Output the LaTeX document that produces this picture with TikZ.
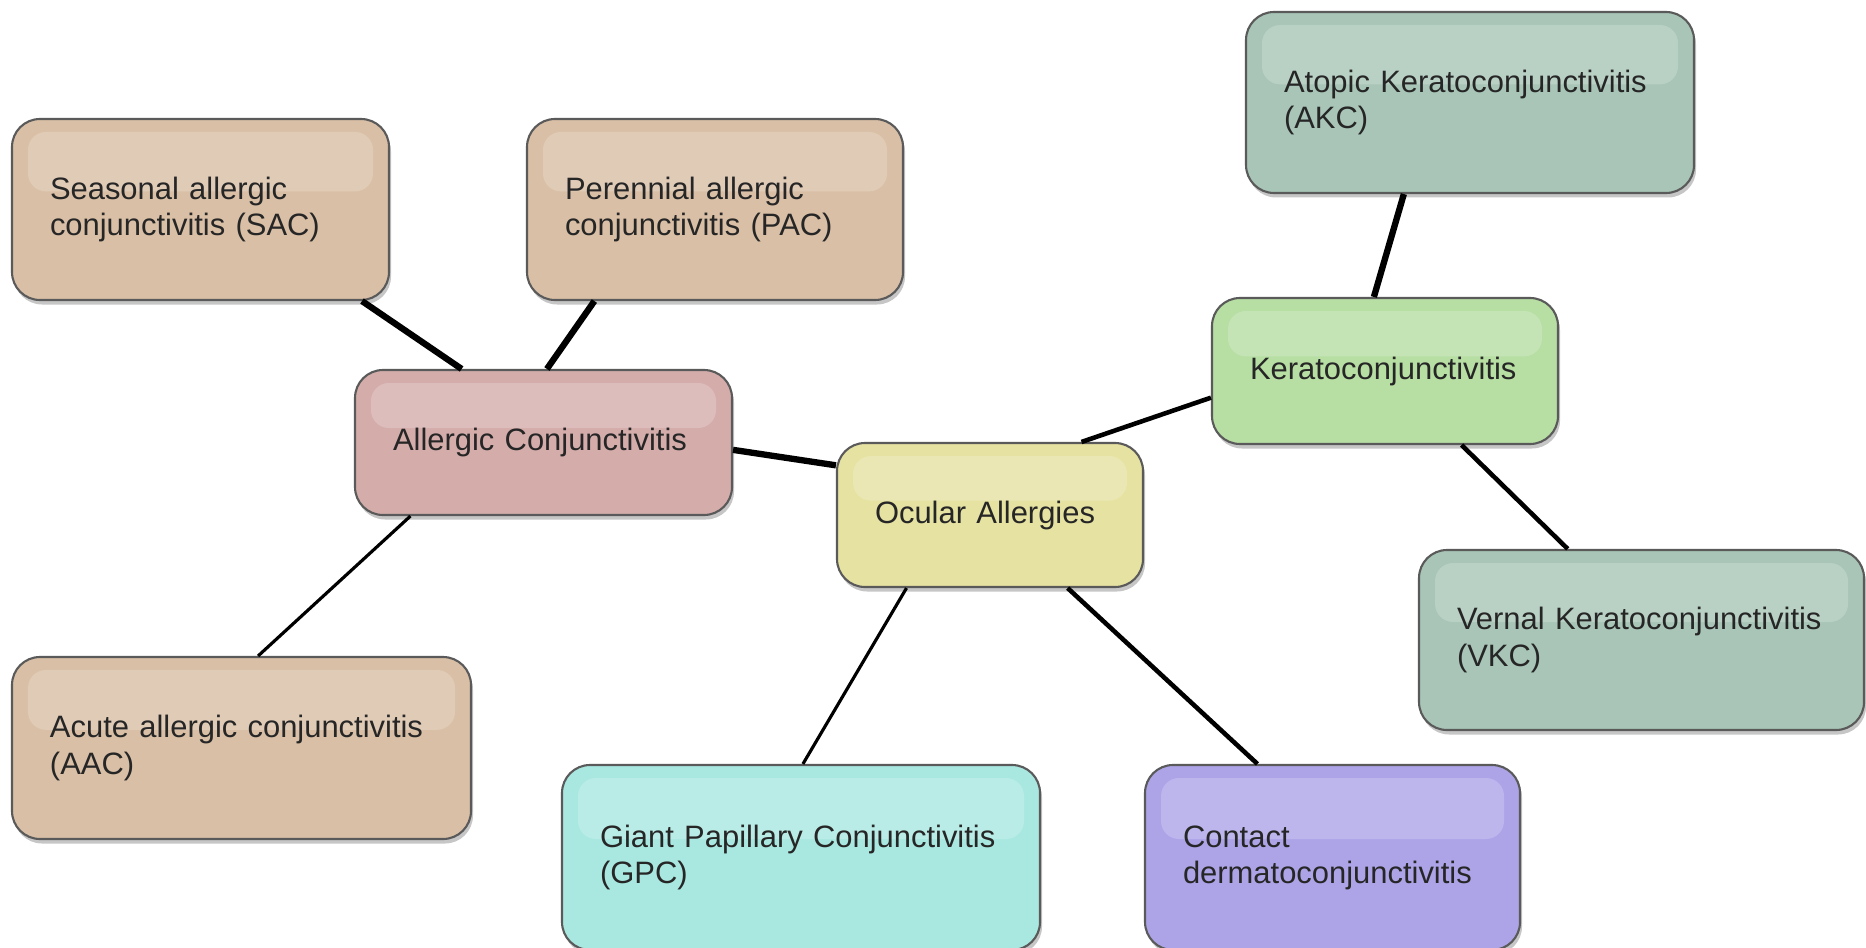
\documentclass[tikz,border=0pt]{standalone}
\usepackage{fontspec}
\setmainfont{Liberation Sans}[WordSpace=0.75]
\usepackage{tikz}
\usetikzlibrary{calc,shadows}

\definecolor{tanbox}{RGB}{217,191,166}
\definecolor{rosebox}{RGB}{212,173,171}
\definecolor{yellowbox}{RGB}{230,226,162}
\definecolor{greenbox}{RGB}{183,222,163}
\definecolor{sagebox}{RGB}{168,197,183}
\definecolor{cyanbox}{RGB}{168,232,225}
\definecolor{violetbox}{RGB}{173,164,232}
\definecolor{edgegray}{RGB}{90,90,90}
\newcommand{\bubblefont}{\fontsize{8.8}{10.3}\selectfont\hyphenpenalty=10000 \exhyphenpenalty=10000 }

\begin{document}
\begin{tikzpicture}[
  bubble/.style={draw=edgegray, line width=0.6pt, rounded corners=0.28cm, inner xsep=0.38cm, inner ysep=0pt,
    align=left, text=black!85, font=\bubblefont,
    drop shadow={shadow xshift=0.02cm, shadow yshift=-0.045cm, opacity=0.45},
    path picture={\fill[white, opacity=0.2, rounded corners=0.18cm]
      ($(path picture bounding box.north west)+(0.16,-0.13)$) rectangle
      ($(path picture bounding box.north east)!0.4!(path picture bounding box.south east)+(-0.16,0)$);}},
  thinlink/.style={line width=0.9pt},
  link/.style={line width=1.3pt},
  thicklink/.style={line width=1.8pt}
]
\useasboundingbox (0,0) rectangle (18.66,-9.47);

% centre
\node[bubble, fill=yellowbox, text width=2.30cm, minimum height=1.44cm] (ocular) at (9.90,-5.15) {Ocular Allergies};

% allergic conjunctivitis branch
\node[bubble, fill=rosebox, text width=3.01cm, minimum height=1.45cm] (ac) at (5.435,-4.425) {Allergic Conjunctivitis};
\node[bubble, fill=tanbox, text width=3.01cm, minimum height=1.81cm] (sac) at (2.005,-2.095) {Seasonal allergic\\conjunctivitis (SAC)};
\node[bubble, fill=tanbox, text width=3.00cm, minimum height=1.81cm] (pac) at (7.15,-2.095) {Perennial allergic\\conjunctivitis (PAC)};
\node[bubble, fill=tanbox, text width=3.83cm, minimum height=1.82cm] (aac) at (2.415,-7.48) {Acute allergic conjunctivitis\\(AAC)};

% keratoconjunctivitis branch
\node[bubble, fill=greenbox, text width=2.70cm, minimum height=1.46cm] (kerato) at (13.85,-3.71) {Keratoconjunctivitis};
\node[bubble, fill=sagebox, text width=3.72cm, minimum height=1.81cm] (akc) at (14.70,-1.025) {Atopic Keratoconjunctivitis\\(AKC)};
\node[bubble, fill=sagebox, text width=3.69cm, minimum height=1.80cm] (vkc) at (16.415,-6.40) {Vernal Keratoconjunctivitis\\(VKC)};

% lower row
\node[bubble, fill=cyanbox, text width=4.02cm, minimum height=1.85cm] (gpc) at (8.01,-8.575) {Giant Papillary Conjunctivitis\\(GPC)};
\node[bubble, fill=violetbox, text width=2.99cm, minimum height=1.85cm] (contact) at (13.325,-8.575) {Contact\\dermatoconjunctivitis};

% links
\draw[thicklink] ($(sac.south west)!0.926!(sac.south east)$) -- ($(ac.north west)!0.284!(ac.north east)$);
\draw[thicklink] ($(pac.south west)!0.181!(pac.south east)$) -- ($(ac.north west)!0.509!(ac.north east)$);
\draw[thinlink] ($(ac.south west)!0.149!(ac.south east)$) -- ($(aac.north west)!0.536!(aac.north east)$);
\draw[thicklink] ($(ac.north east)!0.55!(ac.south east)$) -- ($(ocular.north west)!0.16!(ocular.south west)$);
\draw[link] ($(ocular.north west)!0.797!(ocular.north east)$) -- ($(kerato.north west)!0.68!(kerato.south west)$);
\draw[thicklink] ($(kerato.north west)!0.468!(kerato.north east)$) -- ($(akc.south west)!0.353!(akc.south east)$);
\draw[link] ($(kerato.south west)!0.72!(kerato.south east)$) -- ($(vkc.north west)!0.335!(vkc.north east)$);
\draw[thinlink] ($(ocular.south west)!0.229!(ocular.south east)$) -- ($(gpc.north west)!0.504!(gpc.north east)$);
\draw[link] ($(ocular.south west)!0.752!(ocular.south east)$) -- ($(contact.north west)!0.301!(contact.north east)$);
\end{tikzpicture}
\end{document}
